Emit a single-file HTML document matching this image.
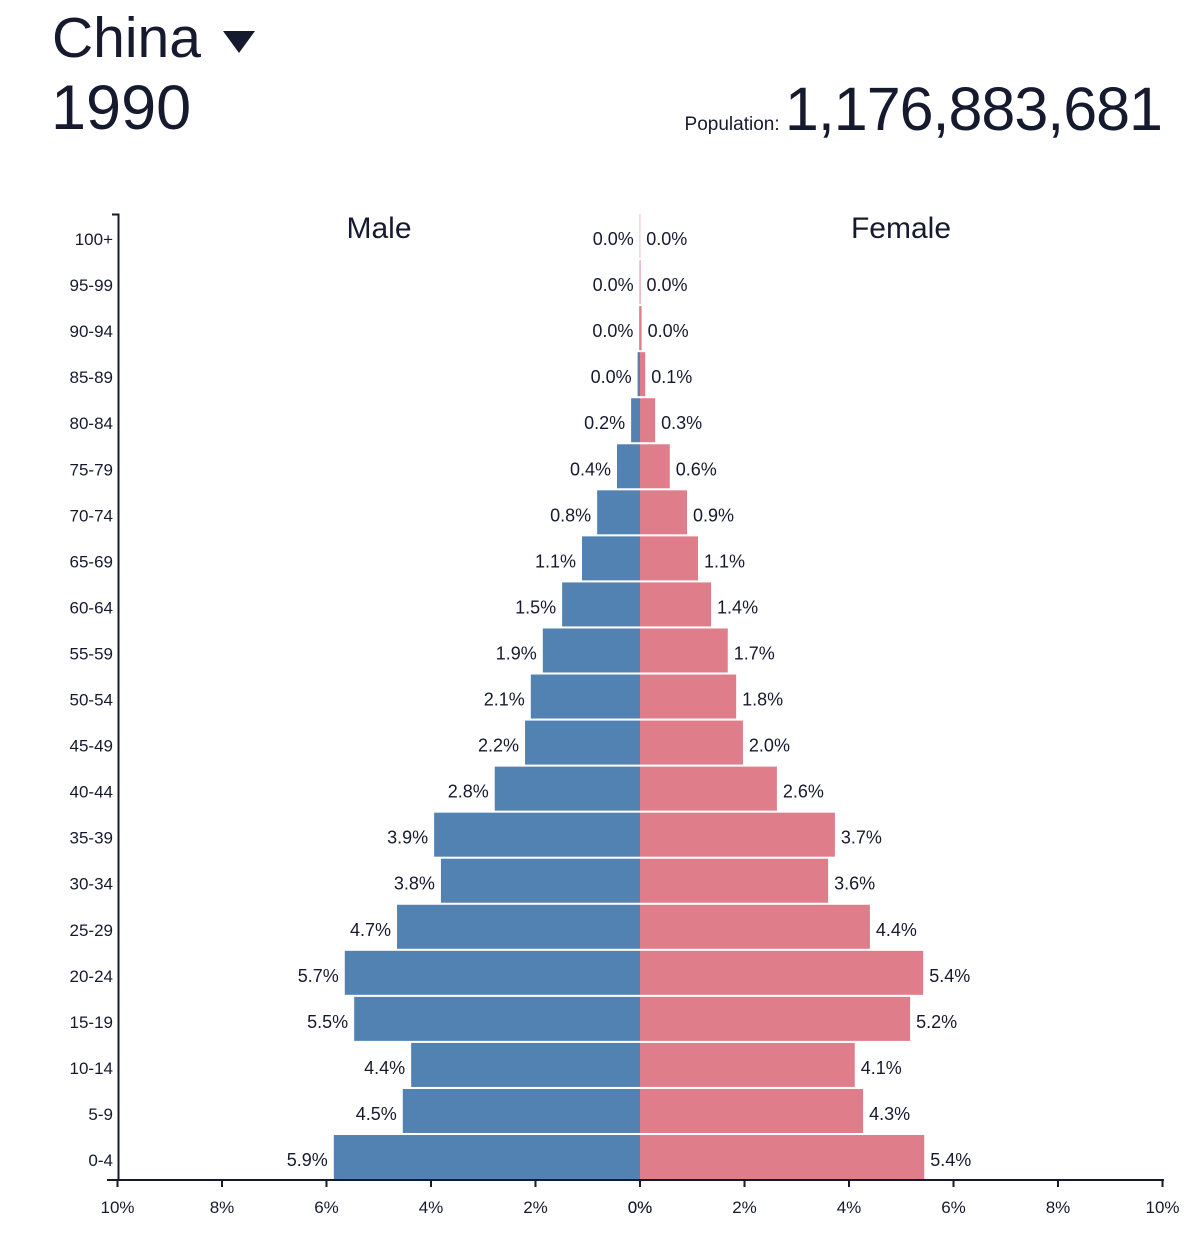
<!DOCTYPE html>
<html><head><meta charset="utf-8"><style>
body{margin:0;background:#fff;font-family:"Liberation Sans",sans-serif;color:#151a2e;}
#wrap{position:relative;width:1188px;height:1236px;overflow:hidden}
.t{position:absolute;white-space:nowrap}
</style></head><body><div id="wrap">
<div class="t" style="left:52px;top:7px;font-size:57px;line-height:62px">China <span style="display:inline-block;width:0;height:0;border-left:16px solid transparent;border-right:16px solid transparent;border-top:22px solid #151a2e;vertical-align:middle;margin-left:6px"></span></div>
<div class="t" style="left:51px;top:75px;font-size:63px;line-height:66px">1990</div>
<div class="t" style="right:26px;top:76px;font-size:61px;line-height:66px;letter-spacing:-1px"><span style="font-size:19px;letter-spacing:0">Population: </span>1,176,883,681</div>
<svg id="chart" width="1188" height="1236" style="position:absolute;left:0;top:0"></svg>
</div>
<script>
const ages=["100+","95-99","90-94","85-89","80-84","75-79","70-74","65-69","60-64","55-59","50-54","45-49","40-44","35-39","30-34","25-29","20-24","15-19","10-14","5-9","0-4"];
const male=[0.004,0.006,0.012,0.046,0.17,0.44,0.82,1.11,1.49,1.86,2.09,2.2,2.78,3.94,3.81,4.65,5.65,5.47,4.38,4.54,5.86];
const female=[0.004,0.01,0.03,0.1,0.29,0.57,0.9,1.11,1.36,1.68,1.84,1.97,2.62,3.73,3.6,4.4,5.42,5.17,4.11,4.27,5.44];
const ticks=[10,8,6,4,2,0];
const NS="http://www.w3.org/2000/svg",svg=document.getElementById('chart');
const cx=640,pxPer=52.25;
const xm=v=>cx-v*pxPer, xf=v=>cx+v*pxPer;
const yTop=213,step=46.05;
const yc=i=>yTop+step*i+step/2;
function mk(tag,attrs,txt){const e=document.createElementNS(NS,tag);for(const k in attrs)e.setAttribute(k,attrs[k]);if(txt!=null)e.textContent=txt;svg.appendChild(e);return e;}
const F='"Liberation Sans",sans-serif';
ages.forEach((a,i)=>{
  const y=yc(i)-22;
  let b=mk('rect',{x:xm(male[i]),y:y,width:male[i]*pxPer,height:44,fill:'#5282b2'});
  
  
  b=mk('rect',{x:cx,y:y,width:female[i]*pxPer,height:44,fill:'#e07d8a'});
  
  
  let t=mk('text',{x:xm(male[i])-6,y:yc(i)+9,'text-anchor':'end','font-size':18,'font-family':F,fill:'#151a2e'},male[i].toFixed(1)+'%');
  
  
  t=mk('text',{x:xf(female[i])+6,y:yc(i)+9,'font-size':18,'font-family':F,fill:'#151a2e'},female[i].toFixed(1)+'%');
  
  
  t=mk('text',{x:113,y:yc(i)+9,'text-anchor':'end','font-size':17,'font-family':F,fill:'#151a2e'},a);
  
  
});
let ax=mk('path',{d:'M112,214.5H118.5V1180',fill:'none',stroke:'#151a2e','stroke-width':2});


ax=mk('line',{x1:107,x2:1164,y1:1180,y2:1180,stroke:'#151a2e','stroke-width':2});


ticks.forEach(v=>{[xm(v),xf(v)].forEach((x,j)=>{
  const l=mk('line',{x1:x,x2:x,y1:1180,y2:1187,stroke:'#151a2e','stroke-width':2});
  
  
  const t=mk('text',{x:x,y:1213,'text-anchor':'middle','font-size':17,'font-family':F,fill:'#151a2e'},v+'%');
  
  
});});
let h=mk('text',{x:379,y:238,'text-anchor':'middle','font-size':30,'font-family':F,fill:'#151a2e'},'Male');


h=mk('text',{x:901,y:238,'text-anchor':'middle','font-size':30,'font-family':F,fill:'#151a2e'},'Female');


</script></body></html>
